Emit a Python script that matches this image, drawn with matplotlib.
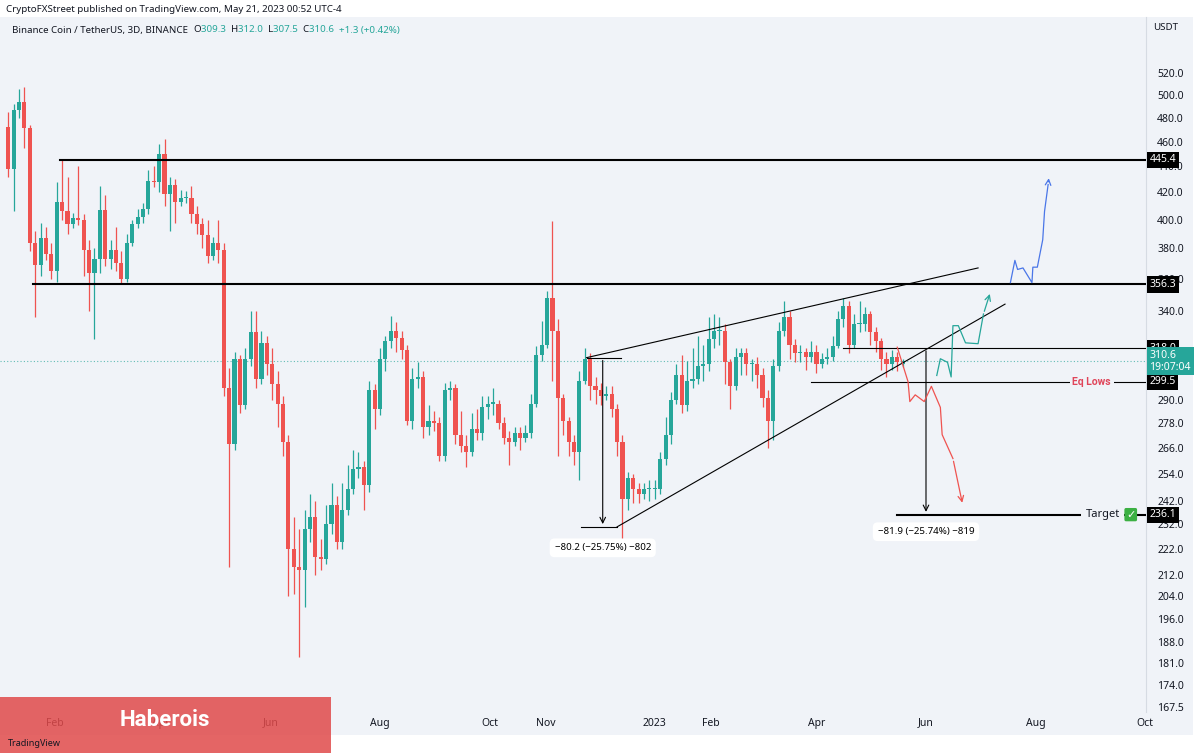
import numpy as np
import pandas as pd
import matplotlib
matplotlib.use("Agg")
import matplotlib.pyplot as plt
import matplotlib.dates as mdates
from matplotlib.patches import Rectangle

plt.rcParams["font.family"] = "Noto Sans"

# ---- data: BNB/USDT 3D candles ----
last_date = "2023-05-19"
first_open = 472
closes = [438, 487, 494, 471, 384, 369, 387, 376, 365, 413, 406, 397, 401, 400, 379, 364, 373, 407, 373, 379,
          370, 360, 384, 397, 402, 408, 429, 428, 450, 419, 426, 413, 416, 416, 404, 397, 389, 375, 384, 379,
          296, 268, 312, 287, 312, 327, 301, 321, 309, 298, 288, 269, 222, 215, 214,
          230, 235, 219, 218, 232, 240, 225, 238, 247, 256, 257, 249, 295, 285, 312, 322, 328, 324, 317, 279,
          301, 302, 276, 279, 278, 262, 295, 296, 272, 267, 264, 275, 273, 286, 288, 288, 278, 271, 269, 273,
          271, 273, 288, 314, 320, 348, 328, 291, 279, 269, 264, 300, 312, 297,
          295, 292, 293, 285, 269, 243, 252, 247, 245, 247, 247, 247, 261, 272, 290, 303, 287, 300, 301, 308,
          309, 323, 328, 328, 310, 297, 313, 315, 309, 309, 303, 291, 279, 308, 328, 336, 320, 315, 316, 313,
          316, 309, 312, 313, 319, 335, 343, 320, 332, 332, 338, 327, 322, 312, 309, 313, 310, 310.6]
highs = [485, 492, 505, 507, 474, 392, 398, 395, 384, 428, 445, 432, 405, 440, 404, 386, 380, 425, 418, 386,
         395, 378, 390, 400, 408, 412, 437, 440, 458, 462, 432, 430, 422, 421, 425, 410, 401, 400, 388, 400,
         384, 307, 316, 314, 318, 340, 340, 328, 325, 318, 305, 292, 272, 235, 230,
         238, 245, 242, 226, 240, 250, 244, 250, 258, 265, 264, 260, 300, 298, 318, 325, 337, 333, 328, 320,
         307, 310, 305, 287, 284, 281, 299, 300, 298, 284, 272, 283, 285, 292, 292, 296, 290, 281, 274, 276,
         276, 277, 293, 319, 334, 352, 399, 335, 293, 281, 272, 305, 318, 315,
         302, 299, 297, 297, 288, 272, 255, 254, 250, 250, 251, 251, 264, 281, 294, 309, 314, 311, 318, 325,
         320, 336, 338, 336, 332, 312, 318, 318, 318, 312, 313, 307, 295, 312, 333, 346, 340, 323, 320, 318,
         322, 320, 315, 318, 325, 340, 348, 346, 338, 346, 342, 340, 330, 324, 316, 317, 316, 312]
lows = [432, 406, 480, 455, 378, 336, 362, 372, 360, 358, 400, 390, 394, 396, 362, 340, 323, 364, 368, 366,
        365, 357, 358, 382, 394, 398, 404, 424, 420, 410, 392, 398, 410, 412, 398, 390, 380, 370, 372, 370,
        292, 215, 265, 283, 285, 308, 296, 298, 303, 290, 276, 262, 204, 205, 183,
        200, 225, 212, 214, 216, 228, 222, 222, 236, 245, 252, 238, 246, 275, 282, 305, 318, 316, 312, 277,
        275, 296, 271, 272, 274, 260, 260, 290, 268, 264, 257, 262, 270, 270, 280, 282, 275, 268, 258, 267,
        265, 269, 271, 286, 311, 318, 300, 262, 272, 262, 258, 251, 298, 290,
        288, 287, 290, 281, 262, 220, 238, 241, 241, 243, 242, 243, 245, 258, 268, 288, 283, 284, 296, 298,
        300, 305, 318, 320, 298, 285, 295, 303, 303, 300, 296, 286, 266, 270, 305, 325, 312, 310, 310, 306,
        310, 304, 307, 309, 311, 318, 330, 315, 318, 327, 328, 320, 316, 306, 302, 306, 305, 307.5]

# key levels
res_top = 445.4
res_mid = 356.3
level_318 = 318.0
eq_lows = 299.5
target = 236.1
last_price = 310.6

# hand drawn paths: days after 2022-02-01, price
green_days = [491, 493, 497, 499, 500, 503, 507, 514, 517, 521]
green_px = [302.8, 312, 310, 302, 331, 331, 321, 320.5, 338, 352]
blue_days = [532, 534.5, 536, 539, 544, 544.5, 547, 550, 551, 553, 553.5]
blue_px = [357.5, 372, 366, 367, 357.5, 367.5, 367.5, 386, 406, 426, 433]
red_days = [469, 475, 476, 479, 484, 488, 493, 494, 500, 505.5]
red_px = [318.5, 299.5, 289, 292.5, 289, 297, 286, 272.4, 261, 240]

month_ticks = ["2022-02-01", "2022-04-01", "2022-06-01", "2022-08-01", "2022-10-01", "2022-11-01",
               "2023-01-01", "2023-02-01", "2023-04-01", "2023-06-01", "2023-08-01", "2023-10-01"]
month_labels = ["Feb", "Apr", "Jun", "Aug", "Oct", "Nov", "2023", "Feb", "Apr", "Jun", "Aug", "Oct"]
price_ticks = [520, 500, 480, 460, 440, 420, 400, 380, 360, 340, 290, 278, 266, 254, 242, 232, 222, 212,
               204, 196, 188, 181, 174, 167.5]

UP, DOWN = "#26a69a", "#ef5350"
BG = "#f0f3f8"

W, H = 1200, 755
fig = plt.figure(figsize=(12, 7.55), dpi=100, facecolor="white")
fig.patches.append(Rectangle((0, (H - 735) / H), 1193 / W, 718 / H, transform=fig.transFigure,
                             facecolor=BG, edgecolor="none", zorder=-5))
ax = fig.add_axes([0, (H - 712) / H, 1146 / W, 695 / H])
ax.set_zorder(1)
ax.set_facecolor(BG)
for s in ax.spines.values():
    s.set_visible(False)
ax.spines["right"].set_visible(True)
ax.spines["right"].set_color("#d6dbe3")

base = mdates.date2num(pd.Timestamp("2022-02-01"))
dates = pd.date_range(end=last_date, periods=len(closes), freq="3D")
x = mdates.date2num(dates)
c = np.array(closes, dtype=float)
o = np.array([first_open] + closes[:-1], dtype=float)
o[-1] = 309.3
hi = np.array(highs, dtype=float)
lo = np.array(lows, dtype=float)
col = np.where(c >= o, UP, DOWN)

ax.vlines(x, lo, hi, colors=col, linewidth=0.9, zorder=2)
ax.bar(x, np.maximum(np.abs(c - o), 0.6), bottom=np.minimum(o, c), width=2.3, color=col, zorder=3)

ax.set_yscale("log")
ax.set_ylim(165.9, 574.8)
ax.set_xlim(base - 30.6, base + 607.5)

def d(days):
    return base + np.asarray(days, dtype=float)

xr = ax.get_xlim()[1]
# horizontal levels
ax.plot([d(3), xr], [res_top] * 2, color="black", lw=1.5, zorder=4)
ax.plot([d(-12), xr], [res_mid] * 2, color="black", lw=1.5, zorder=4)
ax.plot([d(439), xr], [level_318] * 2, color="black", lw=0.8, zorder=4)
ax.plot([d(421), xr], [eq_lows] * 2, color="black", lw=0.8, zorder=4)
ax.plot([d(469), xr], [target] * 2, color="black", lw=1.5, zorder=4)
ax.axhline(last_price, color=UP, lw=0.8, ls=(0, (1, 2)), alpha=0.7, zorder=1)

# wedge lines
ax.plot(d([296, 514]), [312.6, 367], color="black", lw=0.8, zorder=4)
ax.plot(d([313, 529]), [231, 344], color="black", lw=0.8, zorder=4)

# measurement 1
ax.plot(d([296, 315]), [312.6, 312.6], color="black", lw=0.8)
ax.plot(d([293, 313]), [231, 231], color="black", lw=0.8)
ax.annotate("", xy=(d(305), 231), xytext=(d(305), 312.6),
            arrowprops=dict(arrowstyle="->", color="black", lw=0.8))
ax.text(d(305), 222.5, "\u221280.2 (\u221225.75%) \u2212802", fontsize=7, ha="center", va="center",
        bbox=dict(boxstyle="round,pad=0.5", fc="white", ec="none"))
# measurement 2
ax.annotate("", xy=(d(485), target), xytext=(d(485), level_318),
            arrowprops=dict(arrowstyle="->", color="black", lw=0.8))
ax.text(d(485), 229, "\u221281.9 (\u221225.74%) \u2212819", fontsize=7, ha="center", va="center",
        bbox=dict(boxstyle="round,pad=0.5", fc="white", ec="none"))

# projected paths
for days, px, cc in [(green_days, green_px, UP), (blue_days, blue_px, "#4a76e8"), (red_days, red_px, DOWN)]:
    ax.plot(d(days[:-1]), px[:-1], color=cc, lw=0.9, zorder=5)
    ax.annotate("", xy=(d(days[-1]), px[-1]), xytext=(d(days[-2]), px[-2]),
                arrowprops=dict(arrowstyle="->", color=cc, lw=0.9), zorder=5)

ax.text(d(588), eq_lows, "Eq Lows", color="#e0455a", fontsize=7.5, fontweight="bold", family="Roboto",
        ha="right", va="center", bbox=dict(fc=BG, ec="none", pad=2), zorder=6)
ax.text(d(593), target, "Target", color="#131722", fontsize=8, ha="right", va="center",
        bbox=dict(fc=BG, ec="none", pad=3), zorder=6)
ax.text(d(599), target, "\u2713", color="white", fontsize=8, fontweight="bold", family="DejaVu Sans",
        ha="center", va="center", bbox=dict(boxstyle="round,pad=0.15", fc="#3cb043", ec="none"), zorder=7)

# axes ticks
ax.yaxis.tick_right()
ax.set_yticks(price_ticks)
ax.set_yticklabels([f"{t:.1f}" for t in price_ticks])
ax.yaxis.set_minor_locator(matplotlib.ticker.NullLocator())
ax.yaxis.set_minor_formatter(matplotlib.ticker.NullFormatter())
ax.tick_params(axis="y", length=0, pad=8, labelsize=7.5, labelcolor="#131722")
ax.set_xticks(mdates.date2num(pd.to_datetime(month_ticks)))
ax.set_xticklabels(month_labels)
ax.tick_params(axis="x", length=0, pad=4, labelsize=7.5, labelcolor="#131722")
for lab in ax.get_xticklabels():
    if lab.get_text() == "2023":
        lab.set_fontweight("bold")

# price label boxes on the axis
for val, txt, fc in [(res_top, "445.4", "black"), (res_mid, "356.3", "black"), (level_318, "318.0", "black"),
                     (eq_lows, "299.5", "black"), (target, "236.1", "black"),
                     (last_price, "310.6\n19:07:04", UP)]:
    ax.text(1.003, val, txt, transform=ax.get_yaxis_transform(), color="white", fontsize=7.5,
            ha="left", va="center", zorder=10, linespacing=1.1,
            bbox=dict(boxstyle="square,pad=0.25", fc=fc, ec="none"), clip_on=False)

# header texts
fig.text(6 / W, 1 - 9 / H, "CryptoFXStreet published on TradingView.com, May 21, 2023 00:52 UTC-4",
         fontsize=7, color="#131722", va="center")
t = fig.text(12 / W, 1 - 30 / H, "Binance Coin / TetherUS, 3D, BINANCE  ", fontsize=7, color="#131722", va="center")
fig.canvas.draw()
r = fig.canvas.get_renderer()
xpos = t.get_window_extent(r).x1
for part, cc in [("O", "#131722"), ("309.3  ", UP), ("H", "#131722"), ("312.0  ", UP), ("L", "#131722"),
                 ("307.5  ", UP), ("C", "#131722"), ("310.6  ", UP), ("+1.3 (+0.42%)", UP)]:
    tt = fig.text(xpos / W, 1 - 30 / H, part, fontsize=7, color=cc, va="center")
    xpos = tt.get_window_extent(r).x1
fig.text(1153 / W, 1 - 28 / H, "USDT", fontsize=7, color="#131722", va="center")

# watermark
fig.patches.append(Rectangle((0, (H - 753) / H), 331 / W, 56 / H, transform=fig.transFigure,
                             facecolor="#e04a4a", edgecolor="none", alpha=0.85, zorder=20))
fig.text(165 / W, 1 - 720 / H, "Haberois", fontsize=16, fontweight="bold", family="Roboto", color="white",
         ha="center", va="center", zorder=21)
fig.text(8 / W, 1 - 744 / H, "TradingView", fontsize=6.5, color="#131722", va="center", zorder=21)

fig.savefig("out.png", dpi=100, facecolor="white")
